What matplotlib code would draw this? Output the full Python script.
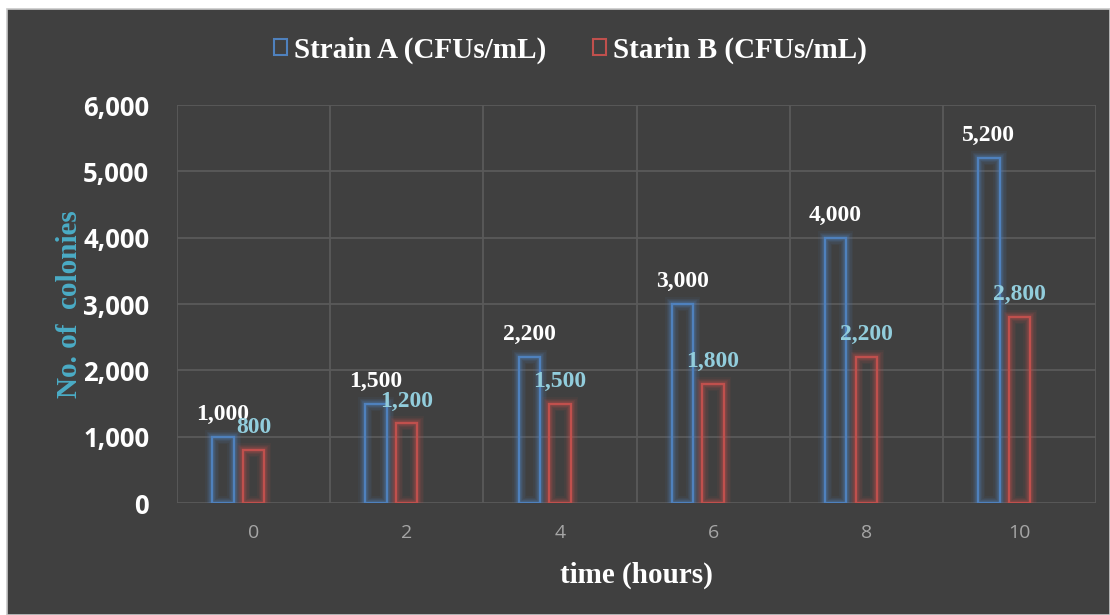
import matplotlib
matplotlib.use("Agg")
import matplotlib.pyplot as plt
from matplotlib.patches import Rectangle
from matplotlib.ticker import FuncFormatter
import numpy as np

hours = ["0", "2", "4", "6", "8", "10"]
strain_a = [1000, 1500, 2200, 3000, 4000, 5200]
strain_b = [800, 1200, 1500, 1800, 2200, 2800]
series_names = ["Strain A (CFUs/mL)", "Starin B (CFUs/mL)"]

BG = "#404040"
BLUE = "#4f81bd"
RED = "#c0504d"
LBLUE = "#92cddc"
GRID = "#5a5a5a"
SERIF = "Liberation Serif"

fig = plt.figure(figsize=(11.1, 6.15), dpi=100)
fig.patch.set_facecolor("white")
fig.patches.append(Rectangle((7/1110, 0), 1 - 7/1110, 1 - 9/615, transform=fig.transFigure,
                             facecolor=BG, edgecolor="#c8c8c8", linewidth=1.2, zorder=-10))

ax = fig.add_axes([177/1110, 1 - 503/615, (1096-177)/1110, (503-105)/615])
ax.set_facecolor(BG)
for s in ax.spines.values():
    s.set_visible(False)

x = np.arange(len(hours))
w = 0.14
offA, offB = -0.2, 0.0

def glow_bars(xs, vals, color):
    for lw, a in [(10, 0.07), (8, 0.09), (6, 0.13), (4, 0.22)]:
        ax.bar(xs, vals, width=w, facecolor="none", edgecolor=color, linewidth=lw, alpha=a, zorder=3)
    ax.bar(xs, vals, width=w, facecolor="none", edgecolor=color, linewidth=1.7, zorder=4)

glow_bars(x + offA, strain_a, BLUE)
glow_bars(x + offB, strain_b, RED)

for xi, v in zip(x + offA, strain_a):
    ax.text(xi, v + 180, f"{v:,}", ha="center", va="bottom", color="white",
            fontsize=17, fontweight="bold", family=SERIF, zorder=5)
for xi, v in zip(x + offB, strain_b):
    ax.text(xi, v + 180, f"{v:,}", ha="center", va="bottom", color=LBLUE,
            fontsize=17, fontweight="bold", family=SERIF, zorder=5)

ax.set_xlim(-0.5, len(hours) - 0.5)
ax.set_ylim(0, 6000)
ax.set_yticks(np.arange(0, 6001, 1000))
ax.yaxis.set_major_formatter(FuncFormatter(lambda v, p: f"{int(v):,}"))
ax.set_xticks(x)
ax.set_xticklabels(hours)
ax.set_xticks(np.arange(-0.5, len(hours), 1), minor=True)
ax.tick_params(axis="x", which="both", length=0, pad=15, labelsize=14, labelcolor="#a6a6a6")
ax.tick_params(axis="y", length=0, pad=20, labelsize=18.5, labelcolor="white")
for lab in ax.get_yticklabels():
    lab.set_fontweight("bold")
    lab.set_family("Open Sans")
for lab in ax.get_xticklabels():
    lab.set_family("Open Sans")

ax.grid(axis="y", which="major", color=GRID, linewidth=1.3, zorder=0)
ax.grid(axis="x", which="minor", color=GRID, linewidth=1.3, zorder=0)
ax.set_axisbelow(True)

ax.set_xlabel("time (hours)", color="white", fontsize=21, fontweight="bold", family=SERIF, labelpad=14)
ax.set_ylabel("No. of  colonies", color="#4bacc6", fontsize=21, fontweight="bold", family=SERIF, labelpad=0)

handles = [Rectangle((0, 0), 1, 1, facecolor="none", edgecolor=BLUE, linewidth=1.5),
           Rectangle((0, 0), 1, 1, facecolor="none", edgecolor=RED, linewidth=1.5)]
leg = fig.legend(handles, series_names, loc="center", bbox_to_anchor=(0.514, 1 - 50/615), ncol=2,
                 frameon=False, handlelength=0.45, handleheight=0.45, handletextpad=0.25, columnspacing=1.6,
                 prop={"family": SERIF, "weight": "bold", "size": 21})
for t in leg.get_texts():
    t.set_color("white")

fig.savefig("out.png", dpi=100, facecolor=fig.get_facecolor())
